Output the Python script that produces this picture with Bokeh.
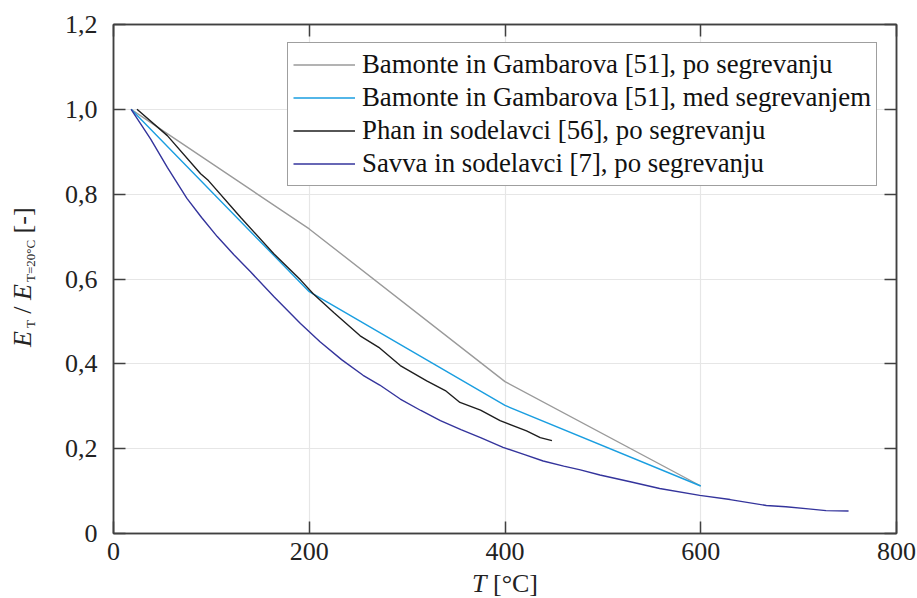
from bokeh.plotting import figure
from bokeh.models import Legend, LegendItem, LinearAxis, FixedTicker, Range1d, Div
from bokeh.layouts import row, column
from bokeh.embed import file_html
from bokeh.resources import INLINE

# Relative modulus of elasticity E_T / E_T=20°C versus temperature T [°C]
bamonte_po_T = [18, 200, 400, 600]
bamonte_po_E = [1.0, 0.718, 0.358, 0.112]

bamonte_med_T = [18, 200, 400, 600]
bamonte_med_E = [1.0, 0.570, 0.302, 0.112]

phan_T = [24, 55, 89, 97, 130, 164, 191, 204, 225, 252, 271, 293, 320, 339, 354, 375, 395, 422, 436, 448]
phan_E = [1.0, 0.938, 0.848, 0.832, 0.745, 0.659, 0.598, 0.565, 0.521, 0.466, 0.439, 0.396, 0.360, 0.337,
          0.309, 0.291, 0.266, 0.242, 0.226, 0.219]

savva_T = [18, 38, 55, 75, 90, 106, 123, 140, 164, 191, 211, 233, 255, 272, 293, 314, 334, 355, 375, 398,
           420, 439, 460, 477, 497, 528, 558, 599, 630, 667, 687, 710, 728, 751]
savva_E = [1.0, 0.930, 0.863, 0.790, 0.745, 0.700, 0.657, 0.617, 0.558, 0.495, 0.452, 0.410, 0.373, 0.350,
           0.317, 0.290, 0.266, 0.245, 0.226, 0.203, 0.186, 0.171, 0.159, 0.150, 0.138, 0.122, 0.106, 0.090,
           0.080, 0.066, 0.063, 0.058, 0.054, 0.053]

x_ticks = [0, 200, 400, 600, 800]
y_ticks = [0, 0.2, 0.4, 0.6, 0.8, 1.0, 1.2]
y_tick_labels = ["0", "0,2", "0,4", "0,6", "0,8", "1,0", "1,2"]

legend_labels = [
    "Bamonte in Gambarova [51], po segrevanju",
    "Bamonte in Gambarova [51], med segrevanjem",
    "Phan in sodelavci [56], po segrevanju",
    "Savva in sodelavci [7], po segrevanju",
]
colors = ["#9a9a9a", "#1a9ee0", "#1e1e1e", "#34349c"]

FONT = "Liberation Serif"
CSS_FONT = "'Liberation Serif', 'Times New Roman', serif"
AXIS_COLOR = "#404040"
TEXT_COLOR = "#222222"

TITLE_W = 45       # strip on the left that holds the vertical axis title
XTITLE_H = 26      # strip at the bottom that holds the horizontal axis title
W, H = 917, 598

p = figure(width=W - TITLE_W, height=H - XTITLE_H, output_backend="svg", toolbar_location=None,
           x_range=Range1d(0, 800), y_range=Range1d(0, 1.2),
           min_border_left=113 - TITLE_W, min_border_right=21, min_border_top=24,
           min_border_bottom=H - XTITLE_H - 533, x_axis_location=None, y_axis_location=None)
p.outline_line_color = AXIS_COLOR
p.outline_line_width = 1.5
p.background_fill_color = "white"
p.border_fill_color = "white"

p.xgrid.ticker = FixedTicker(ticks=x_ticks)
p.ygrid.ticker = FixedTicker(ticks=y_ticks)
p.grid.grid_line_color = "#e6e6e6"
p.grid.grid_line_width = 1.2


def make_axis(ticks, show_labels):
    ax = LinearAxis(ticker=FixedTicker(ticks=ticks))
    ax.axis_line_color = AXIS_COLOR
    ax.axis_line_width = 1.5
    ax.major_tick_line_color = AXIS_COLOR
    ax.major_tick_line_width = 1.5
    ax.major_tick_in = 12
    ax.major_tick_out = 0
    ax.minor_tick_line_color = None
    ax.major_label_text_font = FONT
    ax.major_label_text_color = TEXT_COLOR
    ax.major_label_text_font_size = "26px"
    if not show_labels:
        # tick marks only on the opposite sides of the frame
        ax.major_label_text_color = None
        ax.major_label_text_font_size = "1px"
        ax.major_label_standoff = 0
    return ax


xb = make_axis(x_ticks, True)
xb.major_label_standoff = 9
yl = make_axis(y_ticks, True)
yl.major_label_standoff = 16
yl.major_label_overrides = {t: s for t, s in zip(y_ticks, y_tick_labels)}
xt = make_axis(x_ticks, False)
yr = make_axis(y_ticks, False)
p.add_layout(xb, "below")
p.add_layout(yl, "left")
p.add_layout(xt, "above")
p.add_layout(yr, "right")

series = [(bamonte_po_T, bamonte_po_E), (bamonte_med_T, bamonte_med_E), (phan_T, phan_E), (savva_T, savva_E)]
renderers = []
for (t, e), c in zip(series, colors):
    renderers.append(p.line(t, e, line_color=c, line_width=1.4))

legend = Legend(items=[LegendItem(label=l, renderers=[r]) for l, r in zip(legend_labels, renderers)],
                location=(174, 347))
legend.label_text_font = FONT
legend.label_text_font_size = "26.8px"
legend.label_text_color = "#111111"
legend.glyph_width = 62
legend.glyph_height = 33
legend.label_height = 33
legend.label_standoff = 7
legend.spacing = 0
legend.padding = 5
legend.margin = 0
legend.border_line_color = AXIS_COLOR
legend.border_line_width = 1.5
legend.background_fill_alpha = 1
p.add_layout(legend, "center")

# Axis titles with italic symbols and subscripts
sub = "font-size:13px; position:relative; top:4px;"
ytitle_html = (
    f'<div style="position:relative; width:{TITLE_W}px; height:{H - XTITLE_H}px;">'
    f'<div style="position:absolute; left:10px; top:347px; transform-origin:0 0; '
    f'transform:rotate(-90deg); white-space:nowrap; font-family:{CSS_FONT}; font-size:26px; '
    f'line-height:26px; color:{TEXT_COLOR};">'
    f'<i>E</i><span style="{sub} margin-left:3px;">T</span> / '
    f'<i>E</i><span style="{sub} margin-left:2px;">T=20°C</span> [-]'
    f'</div></div>'
)
xtitle_html = (
    f'<div style="position:relative; width:{W}px; height:{XTITLE_H}px;">'
    f'<div style="position:absolute; left:472px; top:2px; white-space:nowrap; font-family:{CSS_FONT}; '
    f'font-size:26px; line-height:20px; color:{TEXT_COLOR};">'
    f'<i>T</i> [°C]</div></div>'
)
ytitle = Div(text=ytitle_html, width=TITLE_W, height=H - XTITLE_H, margin=0)
xtitle = Div(text=xtitle_html, width=W, height=XTITLE_H, margin=0)

layout = column(row(ytitle, p, spacing=0), xtitle, spacing=0)

open("out.html", "w").write(file_html(layout, INLINE))
